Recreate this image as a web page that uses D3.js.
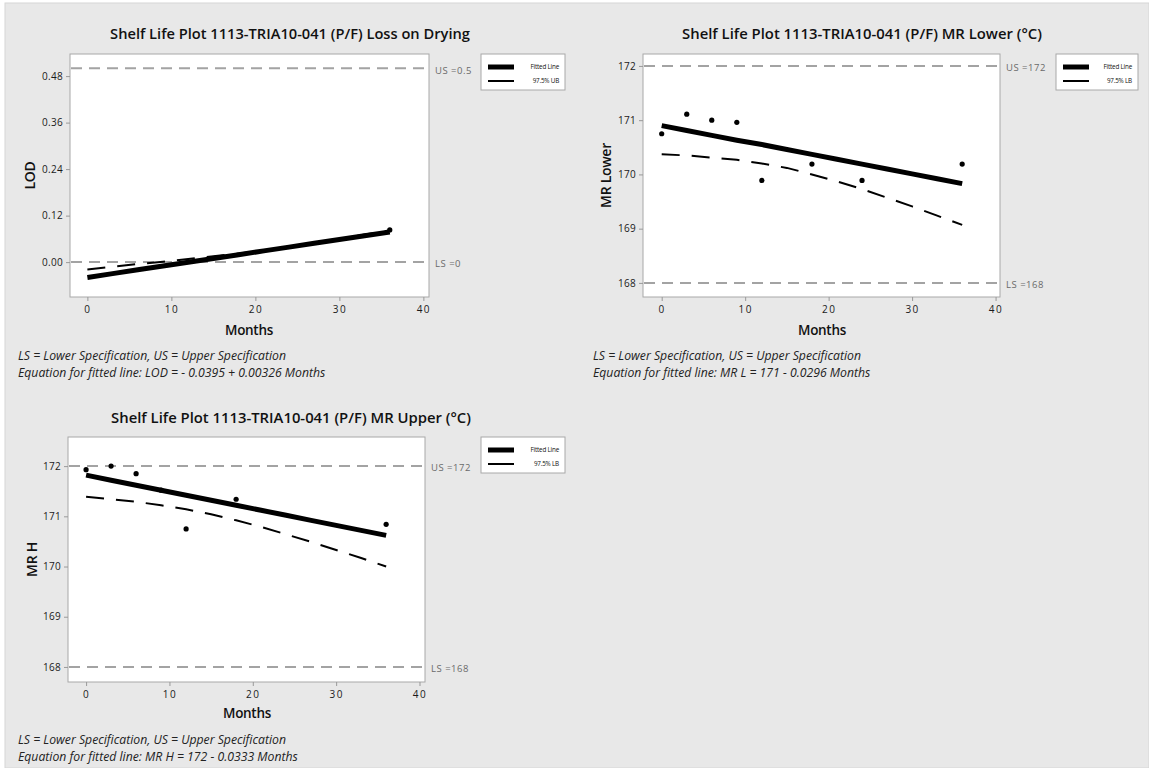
<!DOCTYPE html>
<html>
<head>
<meta charset="utf-8">
<script src="https://cdn.jsdelivr.net/npm/d3@7"></script>
<style>
  html, body { margin: 0; padding: 0; background: #ffffff; }
  svg { display: block; }
  text { font-family: "Open Sans", "Noto Sans", sans-serif; }
</style>
</head>
<body>
<svg id="chart" width="1149" height="768"></svg>
<script>
// ---------------- DATA ----------------
const months = [0, 3, 6, 9, 12, 15, 18, 21, 24, 27, 30, 33, 36];

// Panel 1: Loss on Drying
const lodFit = [-0.0395, -0.0297, -0.0199, -0.0102, -0.0004, 0.0094, 0.0192, 0.0290, 0.0387, 0.0485, 0.0583, 0.0681, 0.0779];
const lodUB  = [-0.019, -0.012, -0.005, 0.001, 0.008, 0.015, 0.022, 0.030, 0.040, 0.050, 0.060, 0.071, 0.082];
const lodPtMonths = [36];
const lodPtValues = [0.083];
const lodYTicks = [0.00, 0.12, 0.24, 0.36, 0.48];

// Panel 2: MR Lower
const mrlFit = [170.90, 170.81, 170.72, 170.63, 170.55, 170.46, 170.37, 170.28, 170.19, 170.10, 170.01, 169.92, 169.83];
const mrlLB  = [170.37, 170.35, 170.31, 170.27, 170.20, 170.12, 170.00, 169.87, 169.73, 169.57, 169.41, 169.24, 169.07];
const mrlPtMonths = [0, 3, 6, 9, 12, 18, 24, 36];
const mrlPtValues = [170.75, 171.11, 171.00, 170.96, 169.89, 170.19, 169.89, 170.19];
const mrYTicks = [168, 169, 170, 171, 172];

// Panel 3: MR Upper
const mrhFit = [171.82, 171.72, 171.62, 171.52, 171.42, 171.32, 171.22, 171.12, 171.02, 170.92, 170.82, 170.72, 170.62];
const mrhLB  = [171.39, 171.34, 171.29, 171.22, 171.14, 171.04, 170.92, 170.79, 170.64, 170.49, 170.33, 170.17, 170.00];
const mrhPtMonths = [0, 3, 6, 9, 12, 18, 36];
const mrhPtValues = [171.93, 172.00, 171.85, 171.52, 170.75, 171.34, 170.84];

const xTicks = [0, 10, 20, 30, 40];

// ---------------- DRAWING ----------------
const svg = d3.select("#chart");

svg.append("rect").attr("x", 5).attr("y", 3).attr("width", 1144).attr("height", 765)
  .attr("fill", "#e8e8e8").attr("stroke", "#d6d6d6").attr("stroke-width", 1);

function fitWidth(sel, target) {
  const node = sel.node();
  const w = node.getComputedTextLength();
  const fs = parseFloat(sel.attr("font-size"));
  if (w > 0) sel.attr("font-size", (fs * target / w).toFixed(2));
  return sel;
}

function drawPanel(cfg) {
  const g = svg.append("g");
  const f = cfg.frame;
  const x = d3.scaleLinear().domain(cfg.xDomain).range([f.x, f.x + f.w]);
  const y = d3.scaleLinear().domain(cfg.yDomain).range([f.y + f.h, f.y]);

  // title
  const t = g.append("text").attr("x", cfg.titleX).attr("y", cfg.titleY).attr("dy", "0.35em")
    .attr("text-anchor", "middle").attr("font-size", 15).attr("font-weight", 600)
    .attr("fill", "#111").text(cfg.title);
  fitWidth(t, cfg.titleW);

  // plot area
  g.append("rect").attr("x", f.x).attr("y", f.y).attr("width", f.w).attr("height", f.h)
    .attr("fill", "#ffffff").attr("stroke", "#a8a8a8").attr("stroke-width", 1);

  // axes
  const xAxis = d3.axisBottom(x).tickValues(xTicks).tickSize(4).tickPadding(5).tickFormat(d3.format("d"));
  const xa = g.append("g").attr("transform", `translate(0,${f.y + f.h})`).call(xAxis);
  const yAxis = d3.axisLeft(y).tickValues(cfg.yTicks).tickSize(4).tickPadding(3).tickFormat(d3.format(cfg.yFormat));
  const ya = g.append("g").attr("transform", `translate(${f.x},0)`).call(yAxis);
  [xa, ya].forEach(a => {
    a.select(".domain").remove();
    a.selectAll(".tick line").attr("stroke", "#999");
    a.selectAll(".tick text").attr("fill", "#1a1a1a").attr("font-size", 10)
      .attr("font-family", "'Open Sans', sans-serif");
  });
  xa.selectAll(".tick text").attr("letter-spacing", "1.5px");
  ya.selectAll(".tick text").attr("letter-spacing", "0.3px");

  // axis titles
  const mt = g.append("text").attr("x", cfg.monthsX).attr("y", f.y + f.h + cfg.monthsDy).attr("dy", "0.35em")
    .attr("text-anchor", "middle").attr("font-size", 14).attr("font-weight", 600)
    .attr("fill", "#111").attr("letter-spacing", "-0.3px").text("Months");
  fitWidth(mt, 48);
  g.append("text").attr("transform", `translate(${cfg.yTitleX},${f.y + f.h / 2}) rotate(-90)`)
    .attr("dy", "0.35em").attr("text-anchor", "middle").attr("font-size", 14).attr("font-weight", 600)
    .attr("fill", "#111").attr("letter-spacing", "-0.3px").text(cfg.yTitle);

  // spec lines
  cfg.specs.forEach(s => {
    g.append("line").attr("x1", f.x + 1).attr("x2", f.x + f.w - 1)
      .attr("y1", y(s.v)).attr("y2", y(s.v))
      .attr("stroke", "#a3a3a3").attr("stroke-width", 2).attr("stroke-dasharray", "11,7");
    g.append("text").attr("x", f.x + f.w + 6).attr("y", y(s.v) + 2).attr("dy", "0.35em")
      .attr("font-size", 9.5).attr("fill", "#6a6a6a").attr("letter-spacing", "0.5px").text(s.label);
  });

  const line = d3.line().x((d, i) => x(months[i])).y(d => y(d));

  // bound (dashed)
  g.append("path").datum(cfg.bound).attr("d", line).attr("fill", "none")
    .attr("stroke", "#000").attr("stroke-width", 2).attr("stroke-dasharray", "18,12");
  // fitted
  g.append("path").datum(cfg.fit).attr("d", line).attr("fill", "none")
    .attr("stroke", "#000").attr("stroke-width", 5);

  // points
  g.selectAll("circle.pt").data(cfg.ptMonths).enter().append("circle")
    .attr("cx", d => x(d)).attr("cy", (d, i) => y(cfg.ptValues[i])).attr("r", 2.6).attr("fill", "#000");

  // footnotes
  const fn1 = g.append("text").attr("x", cfg.noteX).attr("y", cfg.noteY).attr("dy", "0.35em")
    .attr("font-size", 11).attr("font-style", "italic").attr("fill", "#222")
    .text("LS = Lower Specification, US = Upper Specification");
  fitWidth(fn1, 268);
  g.append("text").attr("x", cfg.noteX).attr("y", cfg.noteY + 17).attr("dy", "0.35em")
    .attr("font-size", fn1.attr("font-size")).attr("font-style", "italic").attr("fill", "#222")
    .text(cfg.equation);

  // legend
  const L = cfg.legend;
  g.append("rect").attr("x", L.x).attr("y", L.y).attr("width", L.w).attr("height", L.h)
    .attr("fill", "#fff").attr("stroke", "#a8a8a8").attr("stroke-width", 1);
  const rows = [{ label: "Fitted Line", w: 5 }, { label: cfg.boundLabel, w: 2 }];
  rows.forEach((r, i) => {
    const yy = L.y + 13 + i * 14;
    g.append("line").attr("x1", L.x + 7).attr("x2", L.x + 33).attr("y1", yy).attr("y2", yy)
      .attr("stroke", "#000").attr("stroke-width", r.w);
    g.append("text").attr("x", L.x + L.w - 6).attr("y", yy).attr("dy", "0.35em")
      .attr("text-anchor", "end").attr("font-size", 6.3).attr("fill", "#111")
      .attr("letter-spacing", "-0.2px").text(r.label);
  });
}

drawPanel({
  title: "Shelf Life Plot 1113-TRIA10-041 (P/F) Loss on Drying",
  titleX: 290, titleY: 34, titleW: 360,
  frame: { x: 70, y: 54, w: 359, h: 243 },
  xDomain: [-2.07, 40.67], yDomain: [-0.090, 0.537],
  yTicks: lodYTicks, yFormat: ".2f",
  yTitle: "LOD", yTitleX: 30,
  monthsX: 249, monthsDy: 33,
  specs: [{ v: 0.5, label: "US =0.5" }, { v: 0, label: "LS =0" }],
  fit: lodFit, bound: lodUB, boundLabel: "97.5% UB",
  ptMonths: lodPtMonths, ptValues: lodPtValues,
  noteX: 18, noteY: 356,
  equation: "Equation for fitted line: LOD = - 0.0395 + 0.00326 Months",
  legend: { x: 481, y: 54, w: 84, h: 36 }
});

drawPanel({
  title: "Shelf Life Plot 1113-TRIA10-041 (P/F) MR Lower (°C)",
  titleX: 862, titleY: 34, titleW: 360,
  frame: { x: 643, y: 54, w: 357, h: 243 },
  xDomain: [-2.24, 40.53], yDomain: [167.74, 172.22],
  yTicks: mrYTicks, yFormat: "d",
  yTitle: "MR Lower", yTitleX: 606,
  monthsX: 822, monthsDy: 33,
  specs: [{ v: 172, label: "US =172" }, { v: 168, label: "LS =168" }],
  fit: mrlFit, bound: mrlLB, boundLabel: "97.5% LB",
  ptMonths: mrlPtMonths, ptValues: mrlPtValues,
  noteX: 593, noteY: 356,
  equation: "Equation for fitted line: MR L = 171 - 0.0296 Months",
  legend: { x: 1056, y: 54, w: 82, h: 36 }
});

drawPanel({
  title: "Shelf Life Plot 1113-TRIA10-041 (P/F) MR Upper (°C)",
  titleX: 291, titleY: 418, titleW: 360,
  frame: { x: 68, y: 437, w: 357, h: 245 },
  xDomain: [-2.17, 40.66], yDomain: [167.70, 172.58],
  yTicks: mrYTicks, yFormat: "d",
  yTitle: "MR H", yTitleX: 32,
  monthsX: 247, monthsDy: 31,
  specs: [{ v: 172, label: "US =172" }, { v: 168, label: "LS =168" }],
  fit: mrhFit, bound: mrhLB, boundLabel: "97.5% LB",
  ptMonths: mrhPtMonths, ptValues: mrhPtValues,
  noteX: 18, noteY: 740,
  equation: "Equation for fitted line: MR H = 172 - 0.0333 Months",
  legend: { x: 481, y: 437, w: 84, h: 36 }
});
</script>
</body>
</html>
